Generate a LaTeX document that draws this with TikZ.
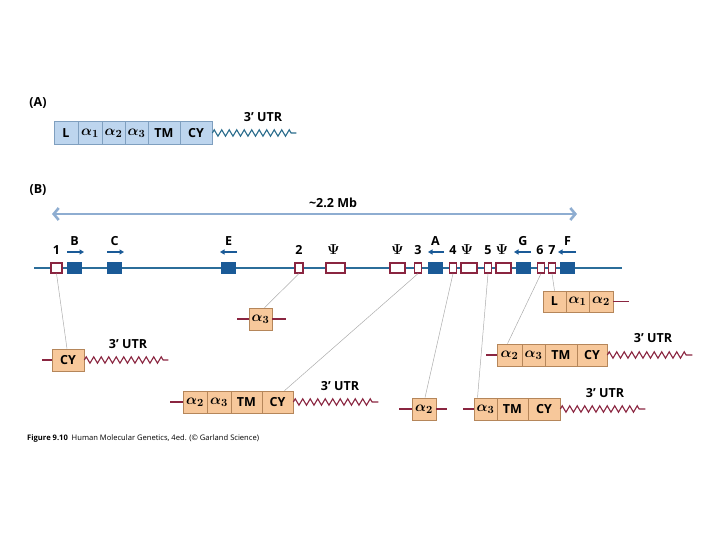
\documentclass[tikz,border=0pt]{standalone}
\usepackage{amsmath}
\usepackage[no-math]{fontspec}
\setmainfont{Open Sans}
\usetikzlibrary{arrows.meta,decorations.pathmorphing}

\definecolor{afill}{HTML}{BDD5EE}
\definecolor{aedge}{HTML}{7F9FBF}
\definecolor{ofill}{HTML}{F7C89B}
\definecolor{oedge}{HTML}{B5865A}
\definecolor{maroon}{HTML}{8A2540}
\definecolor{chromblue}{HTML}{2B6D9A}
\definecolor{exonblue}{HTML}{1A5A97}
\definecolor{spanblue}{HTML}{8EADD1}
\definecolor{utrblue}{HTML}{2A6C8C}

\newcommand{\al}[1]{{\fontsize{15}{17}\selectfont$\boldsymbol{\alpha}_{\mathbf{#1}}$}}
\newcommand{\psig}{{\fontsize{14}{16}\selectfont$\boldsymbol{\Psi}$}}

\tikzset{
  acell/.style={draw=aedge, fill=afill, line width=0.7pt, minimum height=23, inner sep=0, font=\bfseries\fontsize{12.5}{14}\selectfont},
  ocell/.style={draw=oedge, fill=ofill, line width=0.7pt, minimum height=22, inner sep=0, font=\bfseries\fontsize{12.5}{14}\selectfont},
  pex/.style={draw=maroon, fill=white, line width=1.2pt, minimum height=10, inner sep=0},
  bex/.style={draw=none, fill=exonblue, minimum height=12, minimum width=15, inner sep=0},
  lbl/.style={font=\bfseries\fontsize{12.5}{14}\selectfont, inner sep=0},
  dir/.style={exonblue, line width=1.2pt, -{Triangle[length=4.5pt,width=5pt]}},
  conn/.style={draw=gray!65, line width=0.5pt},
  stub/.style={draw=maroon, line width=1.2pt},
  utr/.style={draw=#1, line width=1.1pt, decorate, decoration={zigzag, segment length=7.5, amplitude=3.2, post length=3}},
  utr/.default=maroon
}

\begin{document}
\begin{tikzpicture}[x=1pt,y=-1pt]
    \useasboundingbox (0,0) rectangle (720,540);

    % (A) mRNA
    \node[lbl] (labA) at (38,103) {(A)};
    \node[acell, minimum width=24] (aL) at (66,133) {L};
    \node[acell, minimum width=24] (aA1) at (90,133) {\al1};
    \node[acell, minimum width=23] (aA2) at (113.5,133) {\al2};
    \node[acell, minimum width=23] (aA3) at (136.5,133) {\al3};
    \node[acell, minimum width=32] (aTM) at (164,133) {TM};
    \node[acell, minimum width=32] (aCY) at (196,133) {CY};
    \draw[utr=utrblue] (aCY.east) -- ++(84,0);
    \node[lbl] (utrA) at (263,117) {3’ UTR};

    % (B) gene cluster
    \node[lbl] (labB) at (38,190) {(B)};
    \coordinate (spanL) at (52,214);
    \coordinate (spanR) at (577,214);
    \draw[spanblue, line width=2.6pt, {Straight Barb[length=5pt,width=12pt]}-{Straight Barb[length=5pt,width=12pt]}] (spanL) -- (spanR);
    \node[lbl] (span) at (333,203) {\textasciitilde2.2 Mb};

    \coordinate (chrL) at (34,268);
    \coordinate (chrR) at (622,268);
    \draw[chromblue, line width=1.2pt] (chrL) -- (chrR);

    % open exons and pseudogenes
    \node[pex, minimum width=11] (x1) at (56.5,268) {};
    \node[pex, minimum width=8] (x2) at (299,268) {};
    \node[pex, minimum width=19] (ps1) at (335.5,268) {};
    \node[pex, minimum width=15] (ps2) at (397.5,268) {};
    \node[pex, minimum width=7] (x3) at (418,268) {};
    \node[pex, minimum width=7] (x4) at (453,268) {};
    \node[pex, minimum width=16] (ps3) at (469,268) {};
    \node[pex, minimum width=7] (x5) at (488,268) {};
    \node[pex, minimum width=15] (ps4) at (503.5,268) {};
    \node[pex, minimum width=7] (x6) at (541,268) {};
    \node[pex, minimum width=7] (x7) at (552,268) {};

    % class I genes
    \node[bex] (gB) at (74.5,268) {};
    \node[bex] (gC) at (114.5,268) {};
    \node[bex] (gE) at (228.5,268) {};
    \node[bex] (gA) at (435.5,268) {};
    \node[bex] (gG) at (523.5,268) {};
    \node[bex] (gF) at (567.5,268) {};

    \node[lbl] (n1) at (56.5,250) {1};
    \node[lbl] (n2) at (299,250) {2};
    \node[lbl] (n3) at (418,250) {3};
    \node[lbl] (n4) at (453,250) {4};
    \node[lbl] (n5) at (488,250) {5};
    \node[lbl] (n6) at (540,250) {6};
    \node[lbl] (n7) at (552,250) {7};
    \node[lbl] (p1) at (333.5,250) {\psig};
    \node[lbl] (p2) at (397.5,250) {\psig};
    \node[lbl] (p3) at (467,250) {\psig};
    \node[lbl] (p4) at (502,250) {\psig};

    \node[lbl] (lB) at (74.5,241) {B};
    \node[lbl] (lC) at (114.5,241) {C};
    \node[lbl] (lE) at (228.5,241) {E};
    \node[lbl] (lA) at (435.5,241) {A};
    \node[lbl] (lG) at (523,241) {G};
    \node[lbl] (lF) at (567.5,241) {F};
    \draw[dir] (67,252) -- (84,252);
    \draw[dir] (107,252) -- (124,252);
    \draw[dir] (237,252) -- (220,252);
    \draw[dir] (444,252) -- (428,252);
    \draw[dir] (531,252) -- (514,252);
    \draw[dir] (576,252) -- (558,252);

    % transcripts
    \node[ocell, minimum width=32] (r1CY) at (68,360) {CY};
    \draw[stub] (r1CY.west) -- ++(-10,0);
    \draw[utr] (r1CY.east) -- ++(84,0);
    \node[lbl] (utr1) at (128,344) {3’ UTR};

    \node[ocell, minimum width=23] (r2A3) at (260.5,319) {\al3};
    \draw[stub] (r2A3.west) -- ++(-12,0);
    \draw[stub] (r2A3.east) -- ++(14,0);

    \node[ocell, minimum width=24] (r3A2) at (195,402) {\al2};
    \node[ocell, minimum width=24] (r3A3) at (219,402) {\al3};
    \node[ocell, minimum width=31] (r3TM) at (246.5,402) {TM};
    \node[ocell, minimum width=31] (r3CY) at (277.5,402) {CY};
    \draw[stub] (r3A2.west) -- ++(-13,0);
    \draw[utr] (r3CY.east) -- ++(85,0);
    \node[lbl] (utr3) at (340,386) {3’ UTR};

    \node[ocell, minimum width=24] (r4A2) at (424,409) {\al2};
    \draw[stub] (r4A2.west) -- ++(-13,0);
    \draw[stub] (r4A2.east) -- ++(11,0);

    \node[ocell, minimum width=23] (r5A3) at (485.5,409) {\al3};
    \node[ocell, minimum width=31] (r5TM) at (512.5,409) {TM};
    \node[ocell, minimum width=32] (r5CY) at (544,409) {CY};
    \draw[stub] (r5A3.west) -- ++(-11,0);
    \draw[utr] (r5CY.east) -- ++(85,0);
    \node[lbl] (utr5) at (605,393) {3’ UTR};

    \node[ocell, minimum width=25] (r6A2) at (509.5,355) {\al2};
    \node[ocell, minimum width=23] (r6A3) at (533.5,355) {\al3};
    \node[ocell, minimum width=32] (r6TM) at (561,355) {TM};
    \node[ocell, minimum width=30] (r6CY) at (592,355) {CY};
    \draw[stub] (r6A2.west) -- ++(-11,0);
    \draw[utr] (r6CY.east) -- ++(85,0);
    \node[lbl] (utr6) at (653,338) {3’ UTR};

    \node[ocell, minimum width=23, minimum height=21] (r7L) at (554.5,301.5) {L};
    \node[ocell, minimum width=23, minimum height=21] (r7A1) at (577.5,301.5) {\al1};
    \node[ocell, minimum width=24, minimum height=21] (r7A2) at (601,301.5) {\al2};
    \draw[stub] (r7A2.east) -- ++(16,0);

    % exon to transcript links
    \draw[conn] (x1.south) -- ([xshift=-1]r1CY.north);
    \draw[conn] (x2.south) -- ([xshift=4]r2A3.north);
    \draw[conn] (x3.south) -- ([xshift=7]r3CY.north);
    \draw[conn] (x4.south) -- ([xshift=1]r4A2.north);
    \draw[conn] (x5.south) -- ([xshift=-8]r5A3.north);
    \draw[conn] (x6.south) -- ([xshift=-2]r6A2.north);
    \draw[conn] (x7.south) -- (r7L.north);

    \node[anchor=west, inner sep=0, font=\fontsize{7.6}{9}\selectfont] (cap) at (27,439) {\textbf{Figure 9.10}\enspace Human Molecular Genetics, 4ed. (© Garland Science)};
\end{tikzpicture}
\end{document}
